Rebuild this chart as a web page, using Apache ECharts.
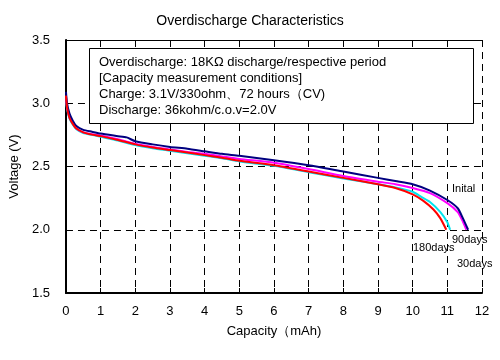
<!DOCTYPE html>
<html>
<head>
<meta charset="utf-8">
<script src="https://cdn.jsdelivr.net/npm/echarts@6/dist/echarts.min.js"></script>
<style>html,body{margin:0;padding:0;background:#fff}#c{width:500px;height:360px}</style>
</head>
<body>
<div id="c"></div>
<script>
var title = 'Overdischarge Characteristics';
var xName = 'Capacity（mAh)';
var yName = 'Voltage (V)';
var seriesNames = ['Inital', '30days', '90days', '180days'];
var seriesColors = ['#000080', '#ff00ff', '#00e5ee', '#ff0000'];
var noteLines = [
  'Overdischarge: 18KΩ discharge/respective period',
  '[Capacity measurement conditions]',
  'Charge: 3.1V/330ohm、72 hours（CV)',
  'Discharge: 36kohm/c.o.v=2.0V'
];

var initialX = [0, 0.03, 0.1, 0.2, 0.3, 0.5, 0.75, 1, 1.5, 1.75, 2, 2.5, 3, 3.5, 4, 4.5, 5, 6, 7, 8, 9, 9.5, 10, 10.5, 11, 11.3, 11.45, 11.6];
var initialY = [3.09, 3.0, 2.92, 2.86, 2.82, 2.79, 2.775, 2.76, 2.74, 2.73, 2.70, 2.675, 2.655, 2.64, 2.62, 2.60, 2.585, 2.55, 2.51, 2.46, 2.41, 2.385, 2.36, 2.31, 2.235, 2.17, 2.09, 2.0];

var d30X = [0, 0.03, 0.1, 0.2, 0.3, 0.5, 0.75, 1, 1.5, 2, 2.5, 3, 3.5, 4, 4.5, 5, 6, 7, 8, 9, 9.5, 10, 10.5, 11, 11.3, 11.42, 11.55];
var d30Y = [3.06, 2.97, 2.89, 2.84, 2.80, 2.77, 2.755, 2.745, 2.715, 2.68, 2.655, 2.635, 2.615, 2.60, 2.58, 2.56, 2.53, 2.48, 2.425, 2.38, 2.36, 2.33, 2.29, 2.21, 2.14, 2.08, 2.0];

var d90X = [0, 0.03, 0.1, 0.2, 0.3, 0.5, 0.75, 1, 1.5, 2, 2.5, 3, 3.5, 4, 4.5, 5, 6, 7, 8, 9, 9.5, 10, 10.25, 10.5, 10.8, 11, 11.08];
var d90Y = [3.05, 2.96, 2.88, 2.83, 2.795, 2.765, 2.75, 2.735, 2.705, 2.67, 2.645, 2.625, 2.605, 2.585, 2.565, 2.54, 2.505, 2.455, 2.405, 2.36, 2.335, 2.30, 2.26, 2.22, 2.14, 2.06, 2.0];

var d180X = [0, 0.03, 0.1, 0.2, 0.3, 0.5, 0.75, 1, 1.5, 2, 2.5, 3, 3.5, 4, 4.5, 5, 6, 7, 8, 9, 9.5, 10, 10.3, 10.6, 10.8, 10.97];
var d180Y = [3.06, 2.97, 2.885, 2.835, 2.80, 2.77, 2.752, 2.74, 2.71, 2.675, 2.65, 2.63, 2.61, 2.59, 2.57, 2.545, 2.51, 2.46, 2.41, 2.36, 2.33, 2.28, 2.23, 2.16, 2.09, 2.0];

var xTicks = {min: 0, max: 12, interval: 1};
var yTicks = {min: 1.5, max: 3.5, interval: 0.5};

function pairs(xs, ys) { return xs.map(function (x, i) { return [x, ys[i]]; }); }
var allData = [pairs(initialX, initialY), pairs(d30X, d30Y), pairs(d90X, d90Y), pairs(d180X, d180Y)];
var drawOrder = [2, 1, 0, 3];

var font = 'Liberation Sans, Arial, sans-serif';
var chart = echarts.init(document.getElementById('c'), null, {renderer: 'canvas'});
var dashed = {show: true, lineStyle: {color: '#000', type: [7, 5], width: 1}};

chart.setOption({
  animation: false,
  backgroundColor: '#fff',
  title: {text: title, left: 'center', top: 9, textStyle: {fontFamily: font, fontSize: 14, fontWeight: 'normal', color: '#000'}},
  grid: {left: 63, right: 18, top: 40, bottom: 67},
  xAxis: [{
    type: 'value', min: xTicks.min, max: xTicks.max, interval: xTicks.interval,
    name: xName, nameLocation: 'middle', nameGap: 32,
    nameTextStyle: {fontFamily: font, fontSize: 13, color: '#000'},
    axisLine: {lineStyle: {color: '#000', width: 2}},
    axisTick: {inside: true, length: 5, lineStyle: {color: '#000'}},
    axisLabel: {fontFamily: font, fontSize: 13, color: '#000', margin: 12},
    splitLine: dashed
  }, {
    type: 'value', position: 'top', min: xTicks.min, max: xTicks.max, interval: xTicks.interval,
    axisLine: {lineStyle: {color: '#000', width: 1}},
    axisTick: {inside: true, length: 5, lineStyle: {color: '#000'}},
    axisLabel: {show: false}, splitLine: {show: false}
  }],
  yAxis: [{
    type: 'value', min: yTicks.min, max: yTicks.max, interval: yTicks.interval,
    name: yName, nameLocation: 'middle', nameGap: 44, nameRotate: 90,
    nameTextStyle: {fontFamily: font, fontSize: 13, color: '#000'},
    axisLine: {show: true, lineStyle: {color: '#000', width: 2}},
    axisTick: {show: true, inside: true, length: 5, lineStyle: {color: '#000'}},
    axisLabel: {fontFamily: font, fontSize: 13, color: '#000', margin: 16, formatter: function (v) { return v.toFixed(1); }},
    splitLine: dashed
  }, {
    type: 'value', position: 'right', min: yTicks.min, max: yTicks.max, interval: yTicks.interval,
    axisLine: {show: true, lineStyle: {color: '#000', width: 1}},
    axisTick: {show: false}, axisLabel: {show: false}, splitLine: {show: false}
  }],
  series: drawOrder.map(function (i) {
    return {
      type: 'line', name: seriesNames[i], data: allData[i], showSymbol: false, symbol: 'none',
      lineStyle: {color: seriesColors[i], width: 2}, z: 3, smooth: 0.2
    };
  }),
  graphic: [
    {type: 'rect', left: 89, top: 48, shape: {width: 384, height: 75}, style: {fill: '#fff', stroke: '#000', lineWidth: 1}, z: 10},
    {type: 'text', left: 99, top: 55, z: 11, style: {text: noteLines.join('\n'), fontFamily: font, fontSize: 13, lineHeight: 15.7, fill: '#000'}},
    {type: 'text', left: 452, top: 183, z: 11, style: {text: seriesNames[0], fontFamily: font, fontSize: 11, fill: '#000'}},
    {type: 'text', left: 452, top: 234, z: 11, style: {text: seriesNames[2], fontFamily: font, fontSize: 11, fill: '#000'}},
    {type: 'text', left: 413, top: 242, z: 11, style: {text: seriesNames[3], fontFamily: font, fontSize: 11, fill: '#000'}},
    {type: 'text', left: 457, top: 258, z: 11, style: {text: seriesNames[1], fontFamily: font, fontSize: 11, fill: '#000'}}
  ]
});
</script>
</body>
</html>
